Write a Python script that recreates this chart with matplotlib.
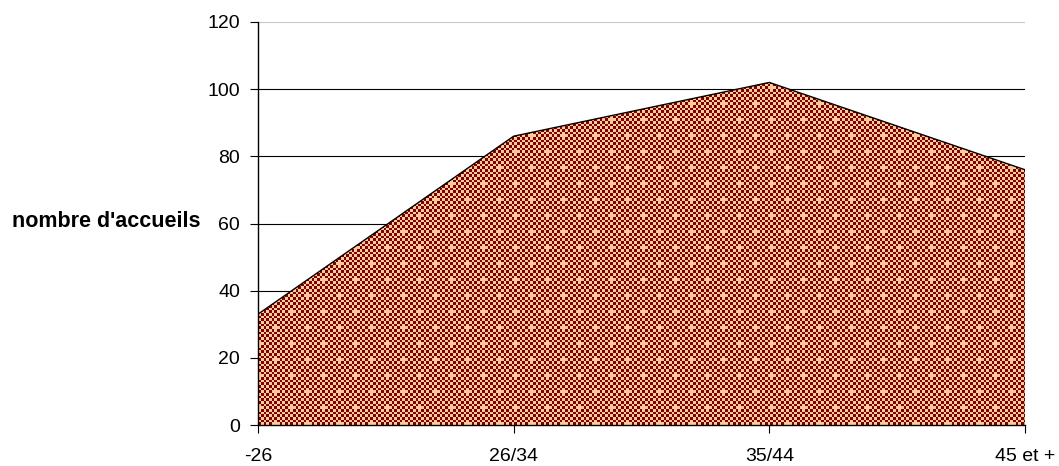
import matplotlib
matplotlib.use('Agg')
import matplotlib.pyplot as plt
import numpy as np

# chart values
categories = ['-26', '26/34', '35/44', '45 et +']
accueils = [33, 86, 102, 76]
y_ticks = [0, 20, 40, 60, 80, 100, 120]

dark_red = '#800000'
peach = '#FFCC99'

plt.rcParams['font.family'] = ['Liberation Sans', 'DejaVu Sans']

W, H = 1059, 466
fig = plt.figure(figsize=(W / 100, H / 100), dpi=100)

# axes box in pixels
left, right, top, bottom = 258, 1025, 22, 425
ax = fig.add_axes([left / W, (H - bottom) / H, (right - left) / W, (bottom - top) / H])

x = np.arange(len(categories))
ax.set_xlim(0, len(categories) - 1)
ax.set_ylim(0, 120)

# gridlines behind the area
for t in y_ticks[1:]:
    ax.axhline(t, color='black' if t < 120 else '#c8c8c8', lw=0.8, zorder=1)

# patterned fill: checkerboard with little crosses, clipped to the area
pw, ph = right - left, bottom - top
cell = 8 / 3.0
rows, cols = np.mgrid[0:ph, 0:pw]
br = (rows / cell).astype(int)
bc = (cols / cell).astype(int)
tex = ((br + bc) % 2).astype(float)
tr, tc = br % 12, bc % 12
cross = np.zeros(tex.shape, dtype=bool)
for cr, cc in [(0, 0), (6, 6)]:
    for dr, dc in [(0, 0), (1, 0), (-1, 0), (0, 1), (0, -1)]:
        cross |= (tr == (cr + dr) % 12) & (tc == (cc + dc) % 12)
tex[cross] = 1.0
cmap = matplotlib.colors.ListedColormap([dark_red, peach])

poly = ax.fill_between(x, accueils, 0, facecolor='none', edgecolor='none', zorder=2)
img = ax.imshow(tex, cmap=cmap, vmin=0, vmax=1, extent=[0, len(categories) - 1, 0, 120],
                aspect='auto', interpolation='nearest', origin='upper', zorder=2)
img.set_clip_path(poly.get_paths()[0], transform=ax.transData)
ax.plot(x, accueils, color='black', lw=1, zorder=3)
ax.plot([x[-1], x[-1]], [0, accueils[-1]], color='black', lw=1, zorder=3)

ax.set_xticks(x)
ax.set_xticklabels(categories)
ax.set_yticks(y_ticks)
ax.tick_params(axis='both', direction='out', length=6, width=0.8, labelsize=14, colors='black')
ax.tick_params(axis='x', pad=10.5)
ax.tick_params(axis='y', pad=7)

for s in ['top', 'right']:
    ax.spines[s].set_visible(False)
ax.spines['left'].set_linewidth(1)
ax.spines['bottom'].set_linewidth(1)
ax.spines['left'].set_zorder(4)
ax.spines['bottom'].set_zorder(4)

fig.text(12 / W, (H - 222) / H, "nombre d'accueils", fontsize=15.5, fontweight='bold',
         ha='left', va='center')

fig.savefig('out.png', dpi=100)
